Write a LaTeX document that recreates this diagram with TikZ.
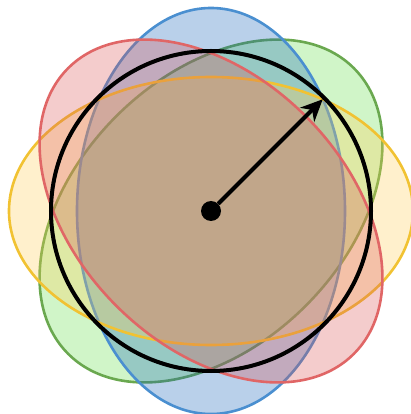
\documentclass[tikz,border=0pt]{standalone}
\usepackage{xcolor}
\usetikzlibrary{arrows.meta}

\definecolor{bluedraw}{HTML}{4A8FD0}
\definecolor{bluefill}{HTML}{1662B9}
\definecolor{greendraw}{HTML}{6AA84F}
\definecolor{greenfill}{HTML}{62DE48}
\definecolor{yellowdraw}{HTML}{F1C232}
\definecolor{yellowfill}{HTML}{FFCD55}
\definecolor{reddraw}{HTML}{E06666}
\definecolor{redfill}{HTML}{DA5555}

\begin{document}
\begin{tikzpicture}[
    x=1pt, y=1pt,
    petal/.style={line width=2.6pt, fill opacity=0.3},
    ring/.style={line width=4pt, black},
    radius arrow/.style={-{Stealth[length=22pt, width=20pt, inset=7pt]}, line width=4pt},
    dot/.style={circle, fill=black, inner sep=0pt, minimum size=20pt}
]
\useasboundingbox (-211,-203) rectangle (200,211);

% Ellipses
\draw[petal, draw=greendraw, fill=greenfill, rotate=45] (0,0) ellipse [x radius=202pt, y radius=134pt];
\draw[petal, draw=bluedraw, fill=bluefill] (0,0) ellipse [x radius=134pt, y radius=203pt];
\draw[petal, draw=yellowdraw, fill=yellowfill] (0,0) ellipse [x radius=202pt, y radius=134pt];
\draw[petal, draw=reddraw, fill=redfill, rotate=-45] (0,0) ellipse [x radius=202pt, y radius=134pt];

% Circle
\draw[ring] (0,0) circle [radius=160pt];

% Nodes
\node[dot] (center) at (0,0) {};
\coordinate (rim) at (45:158pt);

% Edges
\draw[radius arrow] (center) -- (rim);

\end{tikzpicture}
\end{document}
